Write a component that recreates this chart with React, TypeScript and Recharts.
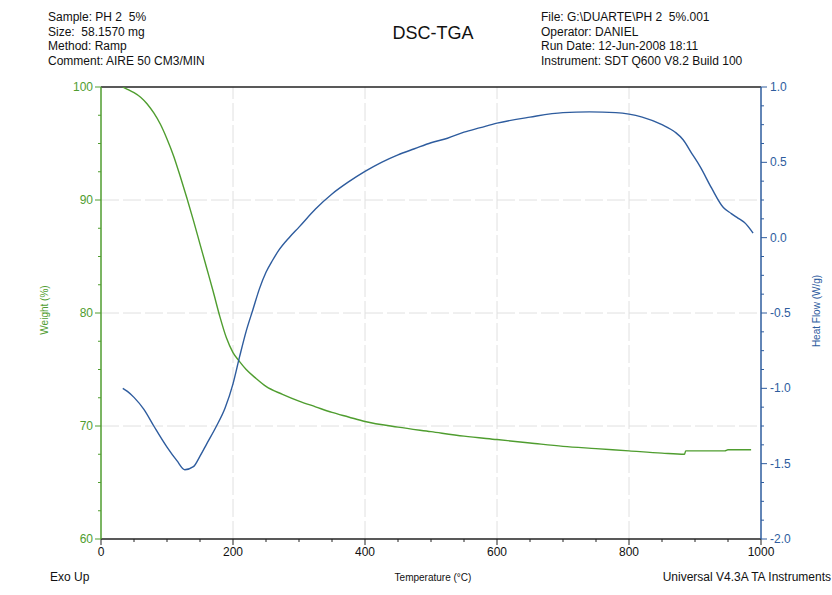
import React from 'react';
import { LineChart, Line, XAxis, YAxis, ReferenceLine } from 'recharts';

// TGA weight curve (%)
const TEMP_W = [33, 40, 50, 60, 70, 80, 90, 100, 110, 120, 130, 140, 150, 160, 170, 180, 190, 200, 210, 220, 235, 250, 275, 300, 325, 350, 375, 400, 450, 500, 550, 600, 650, 700, 750, 800, 850, 884, 886, 900, 945, 950, 985];
const WEIGHT = [100, 99.8, 99.5, 99.1, 98.5, 97.7, 96.7, 95.4, 93.9, 92.1, 90.2, 88.2, 86.1, 84.0, 81.9, 79.7, 77.8, 76.5, 75.7, 75.0, 74.2, 73.5, 72.8, 72.2, 71.7, 71.2, 70.8, 70.4, 69.9, 69.5, 69.1, 68.8, 68.5, 68.2, 68.0, 67.8, 67.6, 67.5, 67.8, 67.8, 67.8, 67.9, 67.9];

// DSC heat flow curve (W/g)
const TEMP_H = [33, 40, 50, 65, 80, 100, 115, 127, 140, 150, 160, 175, 188, 200, 210, 220, 230, 240, 250, 260, 270, 285, 300, 325, 350, 375, 400, 425, 450, 475, 500, 525, 550, 575, 600, 650, 700, 740, 780, 800, 820, 850, 870, 882, 895, 908, 925, 943, 955, 965, 975, 988];
const HEAT = [-1.0, -1.02, -1.06, -1.14, -1.25, -1.39, -1.48, -1.54, -1.52, -1.45, -1.37, -1.25, -1.13, -0.97, -0.79, -0.62, -0.48, -0.34, -0.23, -0.15, -0.08, 0.0, 0.07, 0.19, 0.29, 0.37, 0.44, 0.5, 0.55, 0.59, 0.63, 0.66, 0.7, 0.73, 0.76, 0.8, 0.83, 0.835, 0.83, 0.82, 0.8, 0.75, 0.7, 0.65, 0.56, 0.47, 0.33, 0.2, 0.16, 0.13, 0.1, 0.03];

const X_TICKS = [0, 50, 100, 150, 200, 250, 300, 350, 400, 450, 500, 550, 600, 650, 700, 750, 800, 850, 900, 950, 1000];
const W_TICKS = [60, 62.5, 65, 67.5, 70, 72.5, 75, 77.5, 80, 82.5, 85, 87.5, 90, 92.5, 95, 97.5, 100];
const H_TICKS = [-2, -1.875, -1.75, -1.625, -1.5, -1.375, -1.25, -1.125, -1, -0.875, -0.75, -0.625, -0.5, -0.375, -0.25, -0.125, 0, 0.125, 0.25, 0.375, 0.5, 0.625, 0.75, 0.875, 1];
const X_GRID = [200, 400, 600, 800];
const W_GRID = [70, 80, 90];

const HEADER_LEFT = ['Sample: PH 2  5%', 'Size:  58.1570 mg', 'Method: Ramp', 'Comment: AIRE 50 CM3/MIN'];
const HEADER_RIGHT = ['File: G:\\DUARTE\\PH 2  5%.001', 'Operator: DANIEL', 'Run Date: 12-Jun-2008 18:11', 'Instrument: SDT Q600 V8.2 Build 100'];

const GREEN = '#4f9d2f';
const BLUE = '#2e5c9e';
const FONT = '"Liberation Sans", Arial, sans-serif';

const weightData = TEMP_W.map((t, i) => ({ t, w: WEIGHT[i] }));
const heatData = TEMP_H.map((t, i) => ({ t, h: HEAT[i] }));

function XTick(props: any) {
  const { x, y, payload } = props;
  const major = payload.value % 200 === 0;
  return (
    <g>
      <line x1={x} x2={x} y1={y} y2={y + (major ? 6 : 3)} stroke="#222" />
      {major && (
        <text x={x} y={y + 17} textAnchor="middle" fontSize={12} fill="#111" fontFamily={FONT}>
          {payload.value}
        </text>
      )}
    </g>
  );
}

function WTick(props: any) {
  const { x, y, payload } = props;
  const major = payload.value % 10 === 0;
  return (
    <g>
      <line x1={x - (major ? 6 : 3)} x2={x} y1={y} y2={y} stroke={GREEN} />
      {major && (
        <text x={x - 8} y={y + 4} textAnchor="end" fontSize={12} fill={GREEN} fontFamily={FONT}>
          {payload.value}
        </text>
      )}
    </g>
  );
}

function HTick(props: any) {
  const { x, y, payload } = props;
  const v = payload.value;
  const major = Math.abs(v * 2 - Math.round(v * 2)) < 1e-6;
  return (
    <g>
      <line x1={x} x2={x + (major ? 6 : 3)} y1={y} y2={y} stroke={BLUE} />
      {major && (
        <text x={x + 9} y={y + 4} textAnchor="start" fontSize={12} fill={BLUE} fontFamily={FONT}>
          {v.toFixed(1)}
        </text>
      )}
    </g>
  );
}

const textStyle: React.CSSProperties = {
  position: 'absolute',
  fontFamily: FONT,
  fontSize: 12,
  whiteSpace: 'pre',
  color: '#111',
  lineHeight: '14.5px',
};

export default function App() {
  return (
    <div style={{ position: 'absolute', left: 0, top: 0, width: 832, height: 595, background: '#fff' }}>
      <LineChart width={832} height={595} margin={{ top: 87, right: 0, bottom: 0, left: 0 }}>
        <XAxis
          dataKey="t"
          type="number"
          domain={[0, 1000]}
          ticks={X_TICKS}
          interval={0}
          height={56}
          tickSize={0}
          tickMargin={0}
          tick={<XTick />}
          axisLine={{ stroke: '#222', strokeWidth: 1.5 }}
          allowDataOverflow
        />
        <YAxis
          yAxisId="left"
          domain={[60, 100]}
          ticks={W_TICKS}
          interval={0}
          width={101}
          tickSize={0}
          tickMargin={0}
          tick={<WTick />}
          axisLine={{ stroke: GREEN, strokeWidth: 1.5 }}
          allowDataOverflow
        />
        <YAxis
          yAxisId="right"
          orientation="right"
          domain={[-2, 1]}
          ticks={H_TICKS}
          interval={0}
          width={71}
          tickSize={0}
          tickMargin={0}
          tick={<HTick />}
          axisLine={{ stroke: BLUE, strokeWidth: 1.5 }}
          allowDataOverflow
        />
        {X_GRID.map((v) => (
          <ReferenceLine key={'x' + v} x={v} yAxisId="left" stroke="#e0e0e0" strokeDasharray="18 4" />
        ))}
        {W_GRID.map((v) => (
          <ReferenceLine key={'y' + v} y={v} yAxisId="left" stroke="#e0e0e0" strokeDasharray="18 4" />
        ))}
        <ReferenceLine y={100} yAxisId="left" stroke="#222" strokeWidth={1.5} />
        <Line
          data={weightData}
          dataKey="w"
          yAxisId="left"
          type="monotone"
          stroke={GREEN}
          strokeWidth={1.4}
          dot={false}
          isAnimationActive={false}
        />
        <Line
          data={heatData}
          dataKey="h"
          yAxisId="right"
          type="monotone"
          stroke={BLUE}
          strokeWidth={1.4}
          dot={false}
          isAnimationActive={false}
        />
      </LineChart>

      <div style={{ ...textStyle, left: 48, top: 10 }}>
        {HEADER_LEFT.map((s) => (
          <div key={s}>{s}</div>
        ))}
      </div>
      <div style={{ ...textStyle, left: 541, top: 10 }}>
        {HEADER_RIGHT.map((s) => (
          <div key={s}>{s}</div>
        ))}
      </div>
      <div style={{ ...textStyle, left: 340, width: 186, top: 22, fontSize: 18, lineHeight: '22px', textAlign: 'center' }}>
        DSC-TGA
      </div>

      <div
        style={{
          ...textStyle,
          left: 45,
          top: 310,
          fontSize: 10,
          color: GREEN,
          transform: 'translate(-50%, -50%) rotate(-90deg)',
        }}
      >
        Weight (%)
      </div>
      <div
        style={{
          ...textStyle,
          left: 817,
          top: 311,
          fontSize: 10,
          color: BLUE,
          transform: 'translate(-50%, -50%) rotate(-90deg)',
        }}
      >
        Heat Flow (W/g)
      </div>

      <div style={{ ...textStyle, left: 50, top: 570 }}>Exo Up</div>
      <div style={{ ...textStyle, left: 340, width: 186, top: 571, fontSize: 10, textAlign: 'center' }}>
        Temperature (°C)
      </div>
      <div style={{ ...textStyle, right: 1, top: 570 }}>Universal V4.3A TA Instruments</div>
    </div>
  );
}
